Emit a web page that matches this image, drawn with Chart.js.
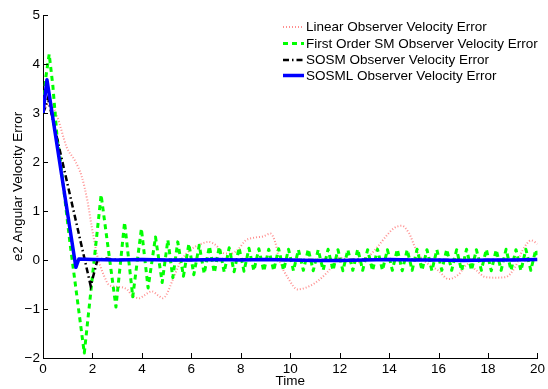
<!DOCTYPE html>
<html>
<head>
<meta charset="utf-8">
<script src="https://cdn.jsdelivr.net/npm/chart.js@4.4.1/dist/chart.umd.min.js"></script>
<style>
  html, body { margin: 0; padding: 0; background: #fff; }
  #wrap { width: 548px; height: 389px; position: relative; }
</style>
</head>
<body>
<div id="wrap"><canvas id="grafica"></canvas></div>
<script>
// datos
const etiquetas = [
  "Linear Observer Velocity Error",
  "First Order SM Observer Velocity Error",
  "SOSM Observer Velocity Error",
  "SOSML Observer Velocity Error"
];
const ticksY = [-2, -1, 0, 1, 2, 3, 4, 5];
const ticksX = [0, 2, 4, 6, 8, 10, 12, 14, 16, 18, 20];

const tLineal = [0, 0.15, 0.3, 0.56, 0.96, 1.3, 1.57, 1.8, 1.97, 2.2, 2.45, 2.7, 3.1, 3.4, 3.6, 3.9, 4.1, 4.4, 4.65, 4.85,
  5.0, 5.25, 5.6, 6.0, 6.4, 6.7, 7.0, 7.3, 7.6, 7.9, 8.2, 8.6, 8.9, 9.2, 9.4, 9.55, 9.95, 10.3, 10.6, 11.0, 11.5,
  12.0, 12.5, 13.0, 13.5, 13.9, 14.2, 14.5, 14.8, 15.1, 15.5, 16.0, 16.4, 16.8, 17.2, 17.5, 17.9, 18.3, 18.7, 19.1,
  19.4, 19.75, 20];
const vLineal = [3.0, 3.15, 3.2, 2.95, 2.3, 2.02, 1.7, 1.2, 0.68, 0.08, -0.3, -0.52, -0.55, -0.6, -0.72, -0.78, -0.72, -0.64, -0.72, -0.78,
  -0.7, -0.4, 0.0, 0.22, 0.33, 0.37, 0.3, 0.14, 0.13, 0.22, 0.4, 0.46, 0.48, 0.54, 0.35, 0.02, -0.4, -0.6, -0.57, -0.47, -0.25,
  0.05, -0.05, 0.0, 0.25, 0.5, 0.65, 0.7, 0.55, 0.2, -0.05, -0.22, -0.39, -0.3, -0.08, -0.2, -0.35, -0.36, -0.35, -0.14,
  0.2, 0.4, 0.33];

const tPrimerOrden = [0, 0.12, 0.25, 0.4, 0.57, 0.7, 1.09, 1.67, 2.35, 2.95, 3.3, 3.63, 3.98, 4.25, 4.55, 4.82, 5.05, 5.25, 5.45, 5.68,
  5.9, 6.1, 6.32, 6.52, 6.73, 6.93, 7.13, 7.33, 7.53, 7.73, 7.93, 8.13, 8.33, 8.53, 8.73, 8.93, 9.13, 9.33, 9.53, 9.73,
  9.93, 10.13, 10.33, 10.53, 10.73, 10.93, 11.13, 11.33, 11.53, 11.73, 11.93, 12.13, 12.33, 12.53, 12.73, 12.93, 13.13, 13.33, 13.53, 13.73,
  13.93, 14.13, 14.33, 14.53, 14.73, 14.93, 15.13, 15.33, 15.53, 15.73, 15.93, 16.13, 16.33, 16.53, 16.73, 16.93, 17.13, 17.33, 17.53, 17.73,
  17.93, 18.13, 18.33, 18.53, 18.73, 18.93, 19.13, 19.33, 19.53, 19.73, 19.93, 20];
const vPrimerOrden = [3.0, 3.75, 4.2, 3.55, 2.5, 2.05, 0.35, -1.9, 1.33, -0.96, 0.77, -0.75, 0.64, -0.57, 0.47, -0.46, 0.41, -0.36, 0.37, -0.33,
  0.33, -0.3, 0.3, -0.28, 0.28, -0.26, 0.27, -0.25, 0.25, -0.24, 0.25, -0.23, 0.24, -0.22, 0.23, -0.23, 0.22, -0.22, 0.23, -0.21,
  0.22, -0.22, 0.21, -0.21, 0.22, -0.22, 0.21, -0.21, 0.22, -0.21, 0.21, -0.22, 0.21, -0.21, 0.22, -0.21, 0.21, -0.22, 0.22, -0.21,
  0.21, -0.21, 0.22, -0.22, 0.21, -0.21, 0.22, -0.21, 0.21, -0.22, 0.21, -0.21, 0.22, -0.21, 0.21, -0.22, 0.22, -0.21, 0.21, -0.21,
  0.22, -0.22, 0.21, -0.21, 0.22, -0.21, 0.21, -0.22, 0.22, -0.21, 0.21, 0.1];

const tSOSM = [0, 0.08, 0.2, 1.93, 2.2, 2.5, 3, 4, 5, 6, 8, 10, 12, 14, 16, 18, 20];
const vSOSM = [3.0, 3.1, 3.3, -0.53, 0.0, 0.03, 0.0, 0.01, 0.0, 0.0, 0.01, 0.0, 0.0, 0.01, 0.0, 0.0, 0.0];

const tSOSML = [0, 0.16, 1.33, 1.45, 2, 3, 4, 5, 6, 7, 8, 9, 10, 11, 12, 13, 14, 15, 16, 17, 18, 19, 20];
const vSOSML = [3.0, 3.68, -0.15, 0.02, 0.01, 0.0, 0.01, 0.0, 0.0, 0.01, 0.0, 0.01, 0.0, -0.01, -0.01, 0.0, 0.01, 0.0, 0.0, -0.01, 0.0, 0.0, 0.01];

const fuente = "'Liberation Sans', Arial, Helvetica, sans-serif";

function puntos(ts, vs) {
  return ts.map((t, i) => ({ x: t, y: vs[i] }));
}

const datasetss = [
  {
    label: etiquetas[0],
    data: puntos(tLineal, vLineal),
    borderColor: "rgba(255,95,95,0.7)",
    borderWidth: 2,
    borderDash: [1, 2],
    cubicInterpolationMode: "monotone",
    order: 4
  },
  {
    label: etiquetas[1],
    data: puntos(tPrimerOrden, vPrimerOrden),
    borderColor: "#00ff00",
    borderWidth: 3,
    borderDash: [5, 4],
    borderJoinStyle: "round",
    order: 3
  },
  {
    label: etiquetas[2],
    data: puntos(tSOSM, vSOSM),
    borderColor: "#000000",
    borderWidth: 2.5,
    borderDash: [6, 3, 1.5, 3],
    order: 2
  },
  {
    label: etiquetas[3],
    data: puntos(tSOSML, vSOSML),
    borderColor: "#0000ff",
    borderWidth: 3.5,
    borderJoinStyle: "round",
    order: 1
  }
];

// ticks hacia dentro, estilo matlab
const ticksDentro = {
  id: "ticksDentro",
  afterDraw(chart) {
    const ctx = chart.ctx;
    const x = chart.scales.x, y = chart.scales.y;
    const area = chart.chartArea;
    ctx.save();
    ctx.strokeStyle = "#000";
    ctx.lineWidth = 1;
    ctx.beginPath();
    ticksY.forEach(v => {
      const py = Math.round(y.getPixelForValue(v)) + 0.5;
      ctx.moveTo(area.left, py);
      ctx.lineTo(area.left + 5, py);
    });
    ticksX.forEach(v => {
      const px = Math.round(x.getPixelForValue(v)) + 0.5;
      ctx.moveTo(px, area.bottom);
      ctx.lineTo(px, area.bottom - 5);
    });
    ctx.stroke();
    ctx.restore();
  }
};

// leyenda dentro del grafico, sin caja
const leyenda = {
  id: "leyenda",
  afterDraw(chart) {
    const ctx = chart.ctx;
    ctx.save();
    ctx.font = "13.5px " + fuente;
    ctx.textBaseline = "middle";
    ctx.fillStyle = "#000";
    const filas = [27, 43.5, 60, 75.5];
    chart.data.datasets.forEach((ds, i) => {
      const yy = filas[i];
      ctx.beginPath();
      ctx.strokeStyle = ds.borderColor;
      ctx.lineWidth = ds.borderWidth;
      ctx.setLineDash(ds.borderDash || []);
      ctx.moveTo(283, yy);
      ctx.lineTo(304, yy);
      ctx.stroke();
      ctx.setLineDash([]);
      ctx.fillText(ds.label, 306, yy + 0.5);
    });
    ctx.restore();
  }
};

const grafica = document.getElementById("grafica");

const configuracion = {
  type: "line",
  data: { datasets: datasetss },
  options: {
    responsive: true,
    maintainAspectRatio: false,
    animation: false,
    layout: { padding: { left: 0, right: 9, top: 15, bottom: 0 } },
    elements: { point: { radius: 0 }, line: { tension: 0 } },
    plugins: { legend: { display: false }, tooltip: { enabled: false } },
    scales: {
      x: {
        type: "linear",
        min: 0,
        max: 20,
        afterBuildTicks: s => { s.ticks = ticksX.map(v => ({ value: v })); },
        afterFit: s => { s.height = 31; },
        grid: { display: false, drawTicks: false },
        border: { display: true, color: "#000", width: 1 },
        ticks: { color: "#000", padding: 3, maxRotation: 0, font: { size: 13.5, family: fuente } },
        title: { display: true, text: "Time", color: "#000", padding: { top: 0, bottom: 0 }, font: { size: 13.5, family: fuente } }
      },
      y: {
        type: "linear",
        min: -2,
        max: 5,
        afterBuildTicks: s => { s.ticks = ticksY.map(v => ({ value: v })); },
        afterFit: s => { s.width = 43; },
        grid: { display: false, drawTicks: false },
        border: { display: true, color: "#000", width: 1 },
        ticks: {
          color: "#000",
          padding: 3,
          font: { size: 13.5, family: fuente },
          callback: v => String(v).replace("-", "\u2212")
        },
        title: { display: true, text: "e2 Angular Velocity Error", color: "#000", padding: { top: 10, bottom: 0 }, font: { size: 13.5, family: fuente } }
      }
    }
  },
  plugins: [ticksDentro, leyenda]
};

window.myChart = new Chart(grafica, configuracion);
</script>
</body>
</html>
